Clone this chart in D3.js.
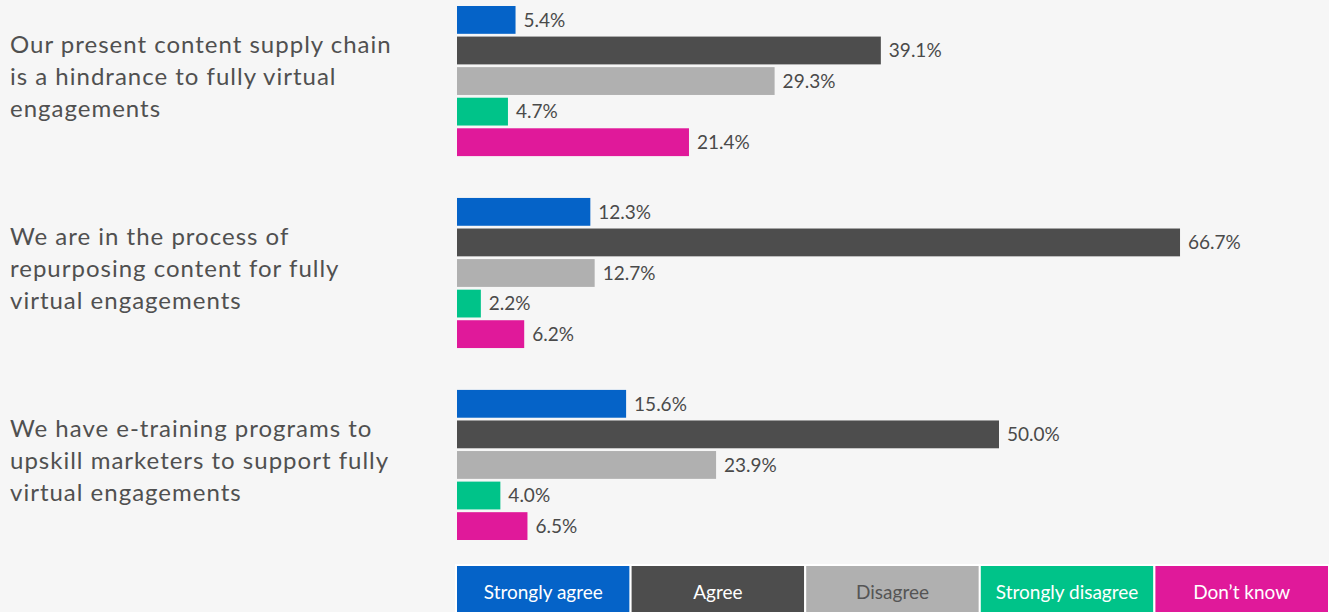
<!DOCTYPE html>
<html>
  <head>
    <title>Virtual engagements</title>
    <script src="https://d3js.org/d3.v7.min.js"></script>
    <style>
      body { margin: 0; background: #f6f6f6; }
      text { font-family: Lato, "Open Sans", sans-serif; }
    </style>
  </head>
  <body>
  </body>
  <script>

var thewidth = 1329;
var theheight = 612;

// statements, each split into its display lines
var categories = [
    ["Our present content supply chain", "is a hindrance to fully virtual", "engagements"],
    ["We are in the process of", "repurposing content for fully", "virtual engagements"],
    ["We have e-training programs to", "upskill marketers to support fully", "virtual engagements"]
];

var series = ["Strongly agree", "Agree", "Disagree", "Strongly disagree", "Don\u2019t know"];
var colors = ["#0563c8", "#4d4d4d", "#b0b0b0", "#00c389", "#e0199a"];
var legendText = ["#ffffff", "#ffffff", "#555555", "#ffffff", "#ffffff"];

// percent per statement, in series order
var values = [
    [5.4, 39.1, 29.3, 4.7, 21.4],
    [12.3, 66.7, 12.7, 2.2, 6.2],
    [15.6, 50.0, 23.9, 4.0, 6.5]
];

var svg = d3.select("body").append("svg")
    .attr("width", thewidth)
    .attr("height", theheight);

svg.append("rect")
    .attr("width", thewidth)
    .attr("height", theheight)
    .attr("fill", "#f6f6f6");

var x = d3.scaleLinear().domain([0, 100]).range([457, 1541]);

var y0 = d3.scaleBand()
    .domain(d3.range(categories.length))
    .range([6, 540])
    .paddingInner(0.218);

var y1 = d3.scaleBand()
    .domain(series)
    .range([0, y0.bandwidth()])
    .paddingInner(0.09);

var groups = svg.selectAll("g.group")
    .data(values)
    .enter()
    .append("g")
    .attr("class", "group")
    .attr("transform", function(d, i) { return "translate(0," + y0(i) + ")"; });

groups.selectAll("rect")
    .data(function(d) { return d; })
    .enter()
    .append("rect")
    .attr("x", x(0))
    .attr("y", function(d, i) { return y1(series[i]); })
    .attr("width", function(d) { return x(d) - x(0); })
    .attr("height", y1.bandwidth())
    .attr("fill", function(d, i) { return colors[i]; });

groups.selectAll("text.val")
    .data(function(d) { return d; })
    .enter()
    .append("text")
    .attr("class", "val")
    .attr("x", function(d) { return x(d) + 8; })
    .attr("y", function(d, i) { return y1(series[i]) + y1.bandwidth() / 2; })
    .attr("dy", "0.36em")
    .attr("font-size", 19)
    .attr("fill", "#4a4a4a")
    .text(function(d) { return d.toFixed(1) + "%"; });

// statement labels, middle line sits on the group centre
var lineH = 32;
svg.selectAll("text.cat")
    .data(categories)
    .enter()
    .append("text")
    .attr("class", "cat")
    .attr("font-size", 24)
    .attr("letter-spacing", 1)
    .attr("fill", "#505050")
    .each(function(lines, i) {
        var mid = y0(i) + y0.bandwidth() / 2 + 4;
        var t = d3.select(this);
        lines.forEach(function(l, k) {
            t.append("tspan")
                .attr("x", 10)
                .attr("y", mid + (k - (lines.length - 1) / 2) * lineH)
                .text(l);
        });
    });

// legend strip along the bottom
var lx = d3.scaleBand().domain(series).range([456, thewidth]);

var legend = svg.selectAll("g.legend")
    .data(series)
    .enter()
    .append("g")
    .attr("class", "legend");

legend.append("rect")
    .attr("x", function(d) { return lx(d); })
    .attr("y", 565)
    .attr("width", lx.bandwidth())
    .attr("height", 60)
    .attr("fill", function(d, i) { return colors[i]; })
    .attr("stroke", "#ffffff")
    .attr("stroke-width", 2);

legend.append("text")
    .attr("x", function(d) { return lx(d) + lx.bandwidth() / 2; })
    .attr("y", 599)
    .attr("text-anchor", "middle")
    .attr("font-size", 19)
    .attr("fill", function(d, i) { return legendText[i]; })
    .text(function(d) { return d; });

  </script>
</html>
